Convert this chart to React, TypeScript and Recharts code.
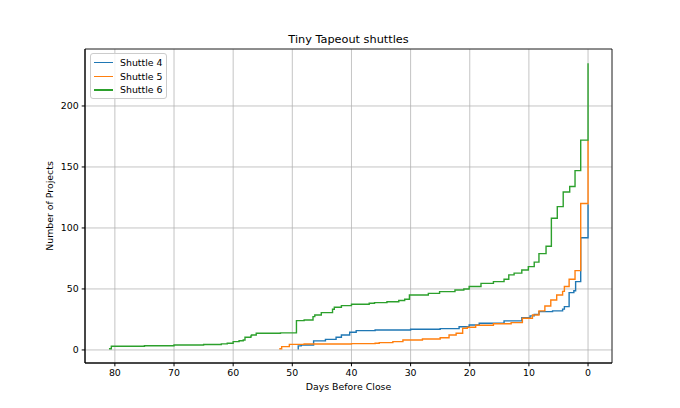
import { LineChart, Line, XAxis, YAxis, CartesianGrid, Legend, ReferenceArea } from "recharts";

// days before close (descending) and cumulative project counts
const shuttle4Days = [49.1, 49, 48.5, 46.4, 44.4, 42.6, 41.7, 40.3, 39.2, 36, 30, 25, 21.8, 20.1, 18.4, 14.2, 11.2, 9.8, 9.1, 8.3, 6, 4.3, 4.0, 3.2, 2.4, 2.1, 1.24, 0];
const shuttle4Counts = [1, 3.3, 4.1, 7.4, 8.7, 10.4, 12.3, 14.5, 15.8, 16.4, 17, 17.5, 19, 20.5, 21.9, 23.8, 26.5, 27.9, 29.2, 31.4, 32, 33.5, 35.5, 47, 48.5, 56, 92, 119.5];

const shuttle5Days = [52.2, 51.8, 50.5, 48, 40, 36, 35.3, 33, 31.3, 28, 25, 23.5, 22.3, 21.2, 20.4, 19, 16, 13, 11.1, 9.4, 8.3, 7.3, 6.3, 5.3, 4.3, 4.0, 3.2, 2.2, 1.24, 0];
const shuttle5Counts = [1, 2.7, 4.6, 4.9, 5.2, 5.5, 6, 6.8, 8.2, 9, 10, 12.3, 13.7, 17.8, 18.6, 20.2, 21.5, 22.4, 26, 28.7, 32, 36, 41, 45, 48, 52, 58, 65, 120, 172];

const shuttle6Days = [81, 80.6, 75, 70, 65, 62, 61, 60, 59, 58.3, 58, 57, 56.9, 56.1, 52, 49.3, 48, 46.5, 46.2, 45.1, 43.2, 42.9, 41.7, 40, 37, 36.1, 34, 32, 31, 30.2, 27, 25.1, 22.5, 21, 20.1, 18.1, 16, 14.2, 13.4, 12.5, 11.2, 10.1, 9.1, 8.3, 7.1, 6.2, 5.2, 4.2, 3.1, 2.2, 1.24, 0];
const shuttle6Counts = [1, 3, 3.5, 4, 4.5, 5, 5.5, 6.8, 7.5, 8.2, 10.4, 11.5, 12.3, 13.7, 14, 24, 24.5, 27.3, 28.7, 30.6, 33.4, 35, 36.3, 37.5, 38.3, 38.8, 39.5, 40.5, 41.5, 45, 46.4, 47.8, 49.2, 50, 52, 54.6, 56, 58, 61.5, 63, 65.5, 68.3, 72, 79, 85, 108, 117.5, 129.5, 134, 147, 172, 235];

const seriesNames = ["Shuttle 4", "Shuttle 5", "Shuttle 6"];
const xTicks = [0, 10, 20, 30, 40, 50, 60, 70, 80];
const yTicks = [0, 50, 100, 150, 200];

const toPoints = (days: number[], counts: number[]) =>
  days.map((d, i) => ({ day: d, count: counts[i] }));

const FONT = "'DejaVu Sans', sans-serif";
const tickStyle = { fontSize: 9.4, fill: "#000", fontFamily: FONT };

function MplLegend({ payload }: any) {
  return (
    <div
      style={{
        boxSizing: "border-box",
        width: 77,
        height: 46,
        border: "1px solid #cccccc",
        borderRadius: 3,
        background: "rgba(255,255,255,0.8)",
        fontFamily: FONT,
        fontSize: 9.4,
        color: "#000",
        paddingTop: 1.5,
      }}
    >
      {(payload || []).map((p: any) => (
        <div key={p.value} style={{ display: "flex", alignItems: "center", height: 13.8 }}>
          <span style={{ display: "inline-block", width: 19, height: 1.4, background: p.color, marginLeft: 2.5, marginRight: 7.5 }} />
          <span>{p.value}</span>
        </div>
      ))}
    </div>
  );
}

export default function App() {
  return (
    <div style={{ position: "absolute", left: 0, top: 0, width: 680, height: 408, background: "#fff" }}>
      <div
        style={{
          position: "absolute",
          left: 85,
          width: 527,
          top: 33.7,
          textAlign: "center",
          fontFamily: FONT,
          fontSize: 11.3,
          lineHeight: "11.3px",
          color: "#000",
        }}
      >
        Tiny Tapeout shuttles
      </div>
      <LineChart width={680} height={408} margin={{ top: 49, right: 68, bottom: 15, left: 0 }}>
        <CartesianGrid stroke="#b0b0b0" strokeWidth={0.75} />
        <XAxis
          dataKey="day"
          type="number"
          domain={[-4.05, 85.05]}
          reversed
          allowDataOverflow
          ticks={xTicks}
          height={30}
          tick={tickStyle}
          tickSize={3.3}
          tickMargin={3}
          stroke="#000"
          label={{ value: "Days Before Close", position: "insideBottom", offset: 3, style: { fontSize: 9.4, fill: "#000", fontFamily: FONT } }}
        />
        <YAxis
          type="number"
          domain={[-10.7, 246.7]}
          allowDataOverflow
          ticks={yTicks}
          width={85}
          tick={tickStyle}
          tickSize={3.3}
          tickMargin={3}
          stroke="#000"
          label={{ value: "Number of Projects", angle: -90, position: "insideLeft", offset: 50, style: { textAnchor: "middle", fontSize: 9.4, fill: "#000", fontFamily: FONT } }}
        />
        <ReferenceArea x1={85.05} x2={-4.05} y1={-10.7} y2={246.7} fill="none" stroke="#000" strokeWidth={0.75} ifOverflow="visible" />
        <Legend
          layout="vertical"
          align="center"
          verticalAlign="middle"
          wrapperStyle={{ left: 90, top: 53, width: 77, height: 46 }}
          content={<MplLegend />}
        />
        <Line data={toPoints(shuttle4Days, shuttle4Counts)} dataKey="count" name={seriesNames[0]} type="stepAfter" stroke="#1f77b4" strokeWidth={1.4} dot={false} activeDot={false} isAnimationActive={false} />
        <Line data={toPoints(shuttle5Days, shuttle5Counts)} dataKey="count" name={seriesNames[1]} type="stepAfter" stroke="#ff7f0e" strokeWidth={1.4} dot={false} activeDot={false} isAnimationActive={false} />
        <Line data={toPoints(shuttle6Days, shuttle6Counts)} dataKey="count" name={seriesNames[2]} type="stepAfter" stroke="#2ca02c" strokeWidth={1.4} dot={false} activeDot={false} isAnimationActive={false} />
      </LineChart>
    </div>
  );
}
